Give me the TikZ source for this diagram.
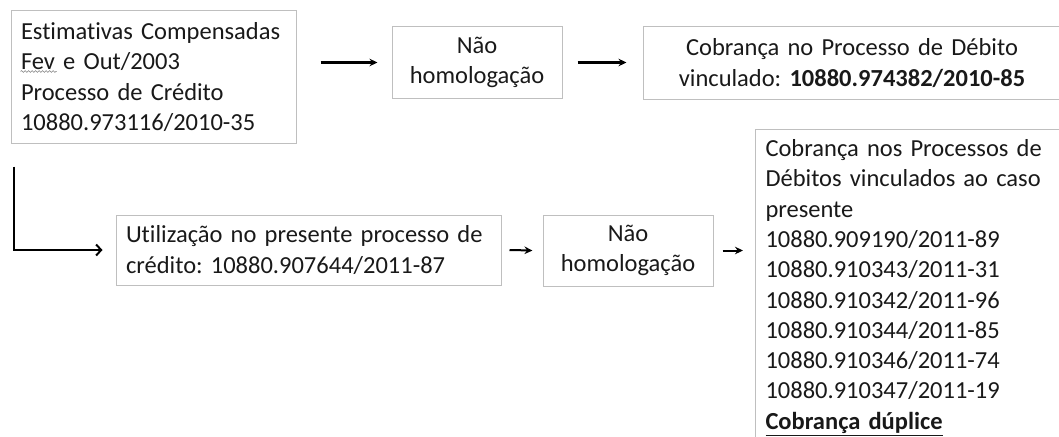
\documentclass[tikz,border=0pt]{standalone}
\usepackage{fontspec}
\setmainfont{Carlito}[Ligatures={NoCommon}]
\usetikzlibrary{arrows.meta, positioning, decorations.pathmorphing}
\definecolor{boxline}{RGB}{191,191,191}
\definecolor{textdark}{RGB}{25,25,25}
\frenchspacing

\begin{document}
\begin{tikzpicture}[
    x=1pt, y=-1pt,
    box/.style={draw=boxline, line width=1pt, text=textdark, font=\fontsize{24.5}{30.3}\selectfont, inner xsep=10pt, inner ysep=0pt},
    arrow/.style={-{Stealth[length=8pt, width=7.5pt]}, line width=2pt},
    elbow/.style={-{Straight Barb[length=5pt, width=11pt]}, line width=2pt},
    squiggle/.style={draw=gray, line width=0.6pt, decorate, decoration={snake, amplitude=0.9pt, segment length=3.5pt}}
]

\useasboundingbox (0,0) rectangle (1059,436);
\clip (0,0) rectangle (1059,436);

\node[box, text width=265pt, minimum height=132pt, align=left] (credit) at (153.5,77)
    {Estimativas Compensadas\\Fev e Out/2003\\Processo de Crédito\\10880.973116/2010-35};
\node[box, text width=150pt, minimum height=71pt, align=center] (nohomA) at (477,62.5) {Não\\homologação};
\node[box, text width=398pt, minimum height=72pt, align=center] (debit) at (852,63)
    {Cobrança no Processo de Débito\\vinculado: \textbf{10880.974382/2010-85}};

\node[box, text width=365pt, minimum height=70pt, align=left] (use) at (308.5,250)
    {Utilização no presente processo de\\crédito: 10880.907644/2011-87};
\node[box, text width=150pt, minimum height=71pt, align=center] (nohomB) at (628,250.5) {Não\\homologação};
\node[box, anchor=north west, inner ysep=10pt, text width=295pt, align=left] (debits) at (755,129)
    {Cobrança nos Processos de\\Débitos vinculados ao caso\\presente\\10880.909190/2011-89\\10880.910343/2011-31\\10880.910342/2011-96\\10880.910344/2011-85\\10880.910346/2011-74\\10880.910347/2011-19\\\underline{\textbf{Cobrança dúplice}}};

% spell-check mark under "Fev"
\draw[squiggle] ([shift={(10,61)}]credit.north west) -- ++(36,0);

\draw[arrow] ([xshift=24pt]credit.east |- nohomA.west) -- ([xshift=-14pt]nohomA.west);
\draw[arrow] ([xshift=15pt]nohomA.east) -- ([xshift=-16pt]debit.west |- nohomA.east);
\draw[elbow] ([shift={(3,23)}]credit.south west) |- ([xshift=-13pt]use.west);
\draw[arrow] ([xshift=8pt]use.east) -- ([xshift=-10pt]nohomB.west);
\draw[arrow] ([xshift=9pt]nohomB.east) -- ([xshift=-12pt]debits.west |- nohomB.east);

\end{tikzpicture}
\end{document}
